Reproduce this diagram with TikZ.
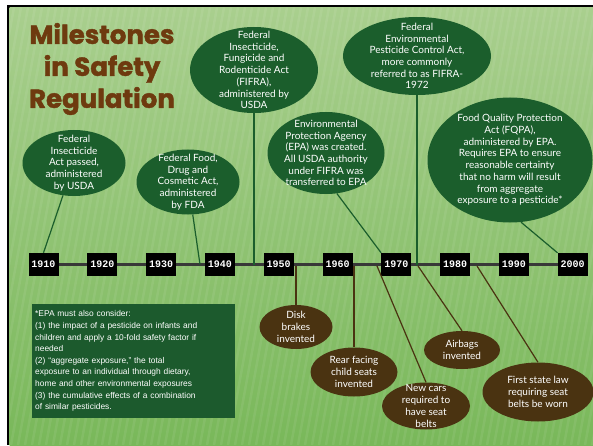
\documentclass[tikz,border=0pt]{standalone}
\usepackage{fontspec}
\setmainfont{Lato}
\newfontfamily\titlefont[BoldFeatures={FakeBold=1.6}]{Poppins}
\newfontfamily\notefont{Liberation Sans}
\newfontfamily\yearfont{Liberation Mono}
\usetikzlibrary{shapes.geometric}
\definecolor{leafgreen}{HTML}{1B5E2C}
\definecolor{notegreen}{HTML}{1C5A2D}
\definecolor{barkbrown}{HTML}{4A3311}
\definecolor{titlebrown}{HTML}{6E3A0F}
\definecolor{grasstop}{HTML}{A9CF8E}
\definecolor{grassbottom}{HTML}{79B85A}
\tikzset{
  gbubble/.style={ellipse, fill=leafgreen, text=white, inner sep=-10pt, align=center,
    font=\fontsize{10}{11.7}\selectfont},
  bbubble/.style={gbubble, fill=barkbrown},
  gline/.style={leafgreen, line width=1.2pt},
  bline/.style={barkbrown, line width=1.2pt},
  yearbox/.style={fill=black, text=white, minimum width=30pt, minimum height=23pt, inner sep=0pt,
    font=\yearfont\bfseries\fontsize{10}{10}\selectfont},
  notebox/.style={fill=notegreen, text=white, align=left, text width=197pt, inner xsep=3pt,
    minimum height=114pt, font=\notefont\fontsize{8.4}{11.6}\selectfont},
}
\begin{document}
\begin{tikzpicture}[x=1pt,y=1pt]
  \useasboundingbox[fill=white] (0,0) rectangle (593,445);
  \fill[black] (7,0) rectangle (593,440);
  \shade[top color=grasstop, bottom color=grassbottom] (9.5,0) rectangle (593,437.5);
  \begin{scope}
    \clip (9.5,0) rectangle (593,437.5);
    \foreach \s in {0,7,...,700}
      \draw[white, opacity=0.07, line width=2.5pt] (\s-80,0) -- (\s,437.5);
  \end{scope}

  \node[font=\titlefont\bfseries\fontsize{26}{32}\selectfont, text=titlebrown, align=center]
    (title) at (102,376) {Milestones\\in Safety\\Regulation};

  \foreach \yr [count=\i from 0] in {1910,1920,...,2000}
    \coordinate (t\yr) at (43.5+58.8*\i,180.5);
  \draw[black!78, line width=3pt] (t1910) -- (t2000);
  \foreach \yr in {1910,1920,...,2000}
    \node[yearbox] (y\yr) at (t\yr) {\yr};

  \coordinate (t1938) at (200,180.5);
  \coordinate (t1947) at (254,180.5);
  \coordinate (t1972) at (417,180.5);
  \coordinate (t1953) at (296,179);
  \coordinate (t1963) at (354,179);
  \coordinate (t1968) at (377,179);
  \coordinate (t1974) at (418,179);
  \coordinate (t1984) at (477,179);

  \node[gbubble, minimum width=103pt, minimum height=66pt] (e1910) at (74,282)
    {Federal\\Insecticide\\Act passed,\\administered\\by USDA};
  \node[gbubble, minimum width=103pt, minimum height=65pt] (e1938) at (188,263)
    {Federal Food,\\Drug and\\Cosmetic Act,\\administered\\by FDA};
  \node[gbubble, minimum width=128pt, minimum height=86pt] (fifra) at (254,375)
    {Federal\\Insecticide,\\Fungicide and\\Rodenticide Act\\(FIFRA),\\administered by\\USDA};
  \node[gbubble, minimum width=117pt, minimum height=82pt] (epa) at (326,292)
    {Environmental\\Protection Agency\\(EPA) was created.\\All USDA authority\\under FIFRA was\\transferred to EPA};
  \node[gbubble, minimum width=148pt, minimum height=78pt] (fepca) at (417,389)
    {Federal\\Environmental\\Pesticide Control Act,\\more commonly\\referred to as FIFRA-\\1972};
  \node[gbubble, minimum width=165pt, minimum height=125pt] (fqpa) at (510,285)
    {Food Quality Protection\\Act (FQPA),\\administered by EPA.\\Requires EPA to ensure\\reasonable certainty\\that no harm will result\\from aggregate\\exposure to a pesticide*};

  \node[bbubble, minimum width=73pt, minimum height=44pt] (disk) at (296,118)
    {Disk\\brakes\\invented};
  \node[bbubble, minimum width=87pt, minimum height=49pt] (rear) at (354,73)
    {Rear facing\\child seats\\invented};
  \node[bbubble, minimum width=88pt, minimum height=47pt] (newcars) at (426,39)
    {New cars\\required to\\have seat\\belts};
  \node[bbubble, minimum width=76pt, minimum height=38pt] (airbags) at (462,95)
    {Airbags\\invented};
  \node[bbubble, minimum width=111pt, minimum height=59pt] (statelaw) at (538,53)
    {First state law\\requiring seat\\belts be worn};

  \draw[gline] (e1910) -- (y1910.north);
  \draw[gline] (e1938) -- (t1938);
  \draw[gline] (fifra) -- (t1947);
  \draw[gline] (epa.-75) -- (y1970.north west);
  \draw[gline] (fepca) -- (t1972);
  \draw[gline] (fqpa.-80) -- (y2000.north west);

  \draw[bline] (t1953) -- (disk);
  \draw[bline] (t1963) -- (rear);
  \draw[bline] (t1968) -- (newcars.north);
  \draw[bline] (t1974) -- (airbags.north);
  \draw[bline] (t1984) -- (statelaw.north);

  \node[notebox, anchor=north west] (note) at (32,141)
    {*EPA must also consider:\\
     (1) the impact of a pesticide on infants and\\
     children and apply a 10-fold safety factor if\\
     needed\\
     (2) “aggregate exposure,” the total\\
     exposure to an individual through dietary,\\
     home and other environmental exposures\\
     (3) the cumulative effects of a combination\\
     of similar pesticides.};
\end{tikzpicture}
\end{document}
